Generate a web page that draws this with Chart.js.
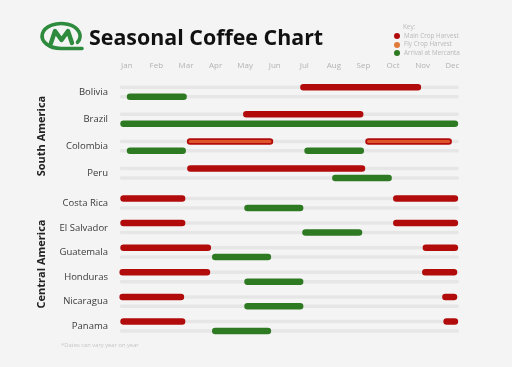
<!DOCTYPE html>
<html>
<head>
<meta charset="utf-8">
<script src="https://cdn.jsdelivr.net/npm/chart.js@4"></script>
<style>
  body { margin: 0; background: #f4f4f4; font-family: "Open Sans", sans-serif; }
  #wrap { position: relative; width: 512px; height: 367px; overflow: hidden; background: #f4f4f4; }
  #chart { position: absolute; left: 0; top: 0; }
  .abs { position: absolute; white-space: nowrap; }
  .title { left: 89px; top: 26px; font-size: 21.4px; line-height: 22px; font-weight: 700; color: #111; }
  .key { font-size: 6.3px; line-height: 8px; color: #b9b9b9; }
  .dot { position: absolute; width: 6px; height: 6px; border-radius: 50%; }
  .region { font-size: 11px; font-weight: 700; color: #222; transform: translate(-50%, -50%) rotate(-90deg); }
  .note { left: 61px; top: 341px; font-size: 5.8px; line-height: 8px; color: #c6c6c6; }
</style>
</head>
<body>
<div id="wrap">
  <canvas id="chart" width="512" height="367"></canvas>

  <svg class="abs" style="left:0;top:0" width="100" height="60" viewBox="0 0 100 60">
    <path d="M77.5 42.3 A19 12.5 0 1 0 61 48.5 L82 48.5" fill="none" stroke="#2e8b3e" stroke-width="3.6" stroke-linecap="round"/>
    <polyline points="51,43 55,31 61.5,40 68,31 72,43" fill="none" stroke="#2e8b3e" stroke-width="4.4" stroke-linejoin="round" stroke-linecap="round"/>
  </svg>
  <div class="abs title">Seasonal Coffee Chart</div>

  <div class="abs key" style="left:403px;top:23px">Key:</div>
  <span class="dot" style="left:394px;top:33px;background:#b10b0b"></span>
  <div class="abs key" style="left:404px;top:31.7px">Main Crop Harvest</div>
  <span class="dot" style="left:394px;top:41.5px;background:#e07a3a"></span>
  <div class="abs key" style="left:404px;top:40.3px">Fly Crop Harvest</div>
  <span class="dot" style="left:394px;top:50px;background:#2e7a22"></span>
  <div class="abs key" style="left:404px;top:48.7px">Arrival at Mercanta</div>

  <div class="abs region" style="left:40px;top:136px">South America</div>
  <div class="abs region" style="left:40px;top:264px">Central America</div>

  <div class="abs note">*Dates can vary year on year</div>
</div>

<script>
const months = ["Jan", "Feb", "Mar", "Apr", "May", "Jun", "Jul", "Aug", "Sep", "Oct", "Nov", "Dec"];
const southAmerica = ["Bolivia", "Brazil", "Colombia", "Peru"];
const centralAmerica = ["Costa Rica", "El Salvador", "Guatemala", "Honduras", "Nicaragua", "Panama"];

// month positions, 0 = Jan ... 11 = Dec (one list of [from, to] per country)
const mainCrop = [
  [[5.97, 9.84]],
  [[4.04, 7.89]],
  [[2.14, 4.84], [8.17, 10.88]],
  [[2.15, 7.95]],
  [[-0.11, 1.87], [9.11, 11.09]],
  [[-0.11, 1.87], [9.11, 11.09]],
  [[-0.11, 2.74], [10.11, 11.09]],
  [[-0.14, 2.71], [10.09, 11.06]],
  [[-0.14, 1.83], [10.77, 11.06]],
  [[-0.11, 1.87], [10.81, 11.09]],
];
const flyCrop = [
  [],
  [],
  [[2.14, 4.84], [8.17, 10.88]],
  [], [], [], [], [], [], [],
];
const arrival = [
  [[0.11, 1.92]],
  [[-0.11, 11.09]],
  [[0.11, 1.89], [6.11, 7.91]],
  [[7.05, 8.85]],
  [[4.08, 5.86]],
  [[6.04, 7.85]],
  [[2.99, 4.77]],
  [[4.08, 5.86]],
  [[4.08, 5.86]],
  [[2.99, 4.77]],
];
const trackRange = [-0.18, 11.17];

const countries = [...southAmerica, ...centralAmerica];

// vertical layout (y scale runs 0..260 from the top of the plot area)
const rowsY = [];
southAmerica.forEach((_, i) => rowsY.push(12 + i * 27.07));
centralAmerica.forEach((_, j) => rowsY.push(123.2 + j * 24.6));
const ROW_OFFSET = 4.7;

function toPoints(segmentsPerCountry, offset) {
  const pts = [];
  segmentsPerCountry.forEach((segs, i) => {
    segs.forEach(([from, to]) => {
      pts.push({ x: from, y: rowsY[i] + offset }, { x: to, y: rowsY[i] + offset }, { x: null, y: null });
    });
  });
  return pts;
}

const tracks = countries.map(() => [trackRange]);

const datasets = [
  { label: "track-top", data: toPoints(tracks, -ROW_OFFSET), borderColor: "#e6e6e6", borderWidth: 3.5, order: 10 },
  { label: "track-bottom", data: toPoints(tracks, ROW_OFFSET), borderColor: "#e6e6e6", borderWidth: 3.5, order: 10 },
  { label: "Arrival at Mercanta", data: toPoints(arrival, ROW_OFFSET), borderColor: "#2e7a22", borderWidth: 6.5, order: 4 },
  { label: "Main Crop Harvest", data: toPoints(mainCrop, -ROW_OFFSET), borderColor: "#b10b0b", borderWidth: 6.5, order: 3 },
  { label: "Fly Crop Harvest", data: toPoints(flyCrop, -ROW_OFFSET), borderColor: "#e0542c", borderWidth: 3, order: 1 },
];

new Chart(document.getElementById("chart"), {
  type: "line",
  data: { datasets },
  options: {
    responsive: false,
    animation: false,
    events: [],
    spanGaps: false,
    layout: { padding: { left: 0, top: 50, right: 45, bottom: 27 } },
    plugins: { legend: { display: false }, tooltip: { enabled: false } },
    elements: {
      point: { radius: 0, hitRadius: 0 },
      line: { borderCapStyle: "round", borderJoinStyle: "round", tension: 0, fill: false },
    },
    scales: {
      x: {
        type: "linear",
        position: "top",
        min: -0.5,
        max: 11.5,
        grid: { display: false, drawTicks: false },
        border: { display: false },
        afterBuildTicks: (scale) => { scale.ticks = months.map((_, i) => ({ value: i })); },
        afterFit: (scale) => { scale.height = 30; },
        ticks: {
          padding: 9.5,
          autoSkip: false,
          maxRotation: 0,
          color: "#b3b3b3",
          font: { family: "Open Sans", size: 8 },
          callback: (value) => months[value],
        },
      },
      y: {
        type: "linear",
        reverse: true,
        min: 0,
        max: 260,
        grid: { display: false, drawTicks: false },
        border: { display: false },
        afterBuildTicks: (scale) => { scale.ticks = rowsY.map((v) => ({ value: v })); },
        afterFit: (scale) => { scale.width = 112; },
        ticks: {
          padding: 4,
          autoSkip: false,
          color: "#3a3a3a",
          font: { family: "Open Sans", size: 9.5 },
          callback: (value, index) => countries[index],
        },
      },
    },
  },
});
</script>
</body>
</html>
